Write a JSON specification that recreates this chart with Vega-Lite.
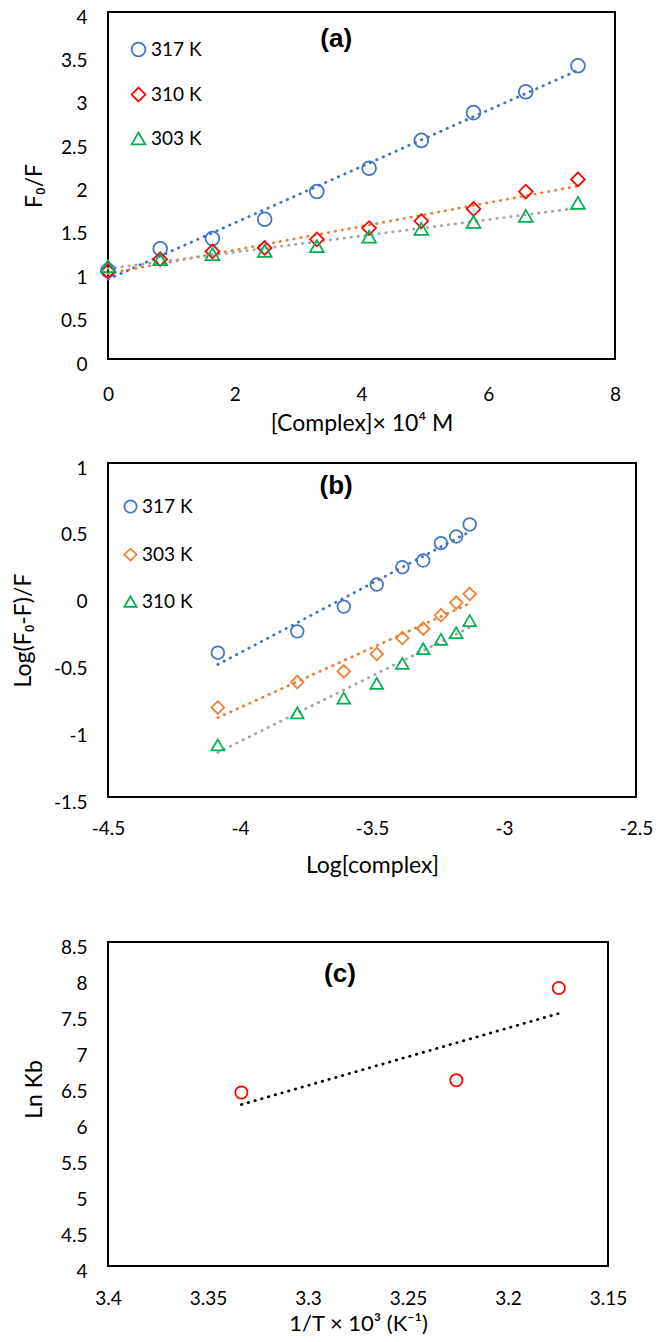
{
  "$schema": "https://vega.github.io/schema/vega-lite/v6.json",
  "padding": {"left": 11, "top": 7, "right": 5, "bottom": 0},
  "background": "white",
  "config": {
    "font": "Lato",
    "view": {"stroke": "black", "strokeWidth": 2},
    "axis": {
      "grid": false, "domain": false, "ticks": false, "tickSize": 0, "labelFlush": false,
      "labelFont": "Lato", "labelFontSize": 19, "labelColor": "black",
      "titleFont": "Lato", "titleFontSize": 23, "titleFontWeight": "normal", "titleColor": "black"
    },
    "axisY": {"labelPadding": 21, "labelOffset": 5},
    "axisX": {"labelPadding": 26, "titlePadding": 8},
    "legend": {
      "labelFont": "Lato", "labelFontSize": 19, "labelColor": "black",
      "symbolStrokeWidth": 1.75, "labelOffset": 3
    }
  },
  "spacing": 59,
  "resolve": {
    "scale": {"color": "independent", "shape": "independent"},
    "legend": {"color": "independent", "shape": "independent"}
  },
  "vconcat": [
    {
      "spacing": 22,
      "resolve": {
        "scale": {"color": "independent", "shape": "independent"},
        "legend": {"color": "independent", "shape": "independent"}
      },
      "vconcat": [
        {
          "width": 507, "height": 347,
          "data": {"values": [
            {"x": 0, "y": 1.02, "T": "317 K"},
            {"x": 0.824, "y": 1.27, "T": "317 K"},
            {"x": 1.648, "y": 1.39, "T": "317 K"},
            {"x": 2.472, "y": 1.61, "T": "317 K"},
            {"x": 3.296, "y": 1.93, "T": "317 K"},
            {"x": 4.12, "y": 2.2, "T": "317 K"},
            {"x": 4.944, "y": 2.52, "T": "317 K"},
            {"x": 5.768, "y": 2.84, "T": "317 K"},
            {"x": 6.592, "y": 3.08, "T": "317 K"},
            {"x": 7.416, "y": 3.38, "T": "317 K"},
            {"x": 0, "y": 1.01, "T": "310 K"},
            {"x": 0.824, "y": 1.15, "T": "310 K"},
            {"x": 1.648, "y": 1.24, "T": "310 K"},
            {"x": 2.472, "y": 1.28, "T": "310 K"},
            {"x": 3.296, "y": 1.38, "T": "310 K"},
            {"x": 4.12, "y": 1.51, "T": "310 K"},
            {"x": 4.944, "y": 1.59, "T": "310 K"},
            {"x": 5.768, "y": 1.73, "T": "310 K"},
            {"x": 6.592, "y": 1.93, "T": "310 K"},
            {"x": 7.416, "y": 2.07, "T": "310 K"},
            {"x": 0, "y": 1.07, "T": "303 K"},
            {"x": 0.824, "y": 1.15, "T": "303 K"},
            {"x": 1.648, "y": 1.21, "T": "303 K"},
            {"x": 2.472, "y": 1.245, "T": "303 K"},
            {"x": 3.296, "y": 1.3, "T": "303 K"},
            {"x": 4.12, "y": 1.41, "T": "303 K"},
            {"x": 4.944, "y": 1.5, "T": "303 K"},
            {"x": 5.768, "y": 1.58, "T": "303 K"},
            {"x": 6.592, "y": 1.65, "T": "303 K"},
            {"x": 7.416, "y": 1.8, "T": "303 K"}
          ]},
          "encoding": {
            "x": {"field": "x", "type": "quantitative",
              "scale": {"domain": [0, 8], "nice": false, "zero": false},
              "axis": {"values": [0, 2, 4, 6, 8], "labelExpr": "'' + datum.value", "title": "[Complex]× 10⁴ M"}},
            "y": {"field": "y", "type": "quantitative",
              "scale": {"domain": [0, 4], "nice": false, "zero": false},
              "axis": {"values": [0, 0.5, 1, 1.5, 2, 2.5, 3, 3.5, 4], "labelExpr": "'' + datum.value", "title": "F₀/F", "titleX": -74, "titleBaseline": "middle"}}
          },
          "layer": [
            {
              "transform": [{"filter": "datum.T === '317 K'"}, {"regression": "y", "on": "x"}],
              "mark": {"type": "line", "strokeDash": [0.5, 6.5], "strokeCap": "round", "strokeWidth": 2.75, "color": "#4472C4"},
              "encoding": {}
            },
            {
              "transform": [{"filter": "datum.T === '310 K'"}, {"regression": "y", "on": "x"}],
              "mark": {"type": "line", "strokeDash": [0.5, 6.5], "strokeCap": "round", "strokeWidth": 2.75, "color": "#ED7D31"},
              "encoding": {}
            },
            {
              "transform": [{"filter": "datum.T === '303 K'"}, {"regression": "y", "on": "x"}],
              "mark": {"type": "line", "strokeDash": [0.5, 6.5], "strokeCap": "round", "strokeWidth": 2.75, "color": "#A5A5A5"},
              "encoding": {}
            },
            {
              "mark": {"type": "point", "filled": false, "strokeWidth": 1.75, "opacity": 1, "size": 190},
              "encoding": {
                "color": {"field": "T", "type": "nominal",
                  "scale": {"domain": ["317 K", "310 K", "303 K"], "range": ["#4472C4", "#FF0000", "#00B050"]},
                  "legend": {"orient": "none", "legendX": 21, "legendY": 28, "title": null, "padding": 0, "rowPadding": 24, "symbolSize": 190}},
                "shape": {"field": "T", "type": "nominal",
                  "scale": {"domain": ["317 K", "310 K", "303 K"], "range": ["circle", "diamond", "triangle-up"]},
                  "legend": {"orient": "none", "legendX": 21, "legendY": 28, "title": null, "padding": 0, "rowPadding": 24, "symbolSize": 190}}
              }
            },
            {
              "data": {"values": [{"x": 3.6, "y": 3.69, "label": "(a)"}]},
              "mark": {"type": "text", "font": "Liberation Sans", "fontWeight": "bold", "fontSize": 26, "color": "black"},
              "encoding": {"text": {"field": "label"}}
            }
          ]
        },
        {
          "width": 528, "height": 334,
          "data": {"values": [
            {"x": -4.084, "y": -0.42, "T": "317 K"},
            {"x": -3.783, "y": -0.26, "T": "317 K"},
            {"x": -3.607, "y": -0.075, "T": "317 K"},
            {"x": -3.482, "y": 0.09, "T": "317 K"},
            {"x": -3.385, "y": 0.22, "T": "317 K"},
            {"x": -3.306, "y": 0.27, "T": "317 K"},
            {"x": -3.239, "y": 0.4, "T": "317 K"},
            {"x": -3.181, "y": 0.45, "T": "317 K"},
            {"x": -3.13, "y": 0.54, "T": "317 K"},
            {"x": -4.084, "y": -0.83, "T": "303 K"},
            {"x": -3.783, "y": -0.64, "T": "303 K"},
            {"x": -3.607, "y": -0.56, "T": "303 K"},
            {"x": -3.482, "y": -0.43, "T": "303 K"},
            {"x": -3.385, "y": -0.31, "T": "303 K"},
            {"x": -3.306, "y": -0.24, "T": "303 K"},
            {"x": -3.239, "y": -0.14, "T": "303 K"},
            {"x": -3.181, "y": -0.045, "T": "303 K"},
            {"x": -3.13, "y": 0.02, "T": "303 K"},
            {"x": -4.084, "y": -1.11, "T": "310 K"},
            {"x": -3.783, "y": -0.87, "T": "310 K"},
            {"x": -3.607, "y": -0.76, "T": "310 K"},
            {"x": -3.482, "y": -0.65, "T": "310 K"},
            {"x": -3.385, "y": -0.5, "T": "310 K"},
            {"x": -3.306, "y": -0.39, "T": "310 K"},
            {"x": -3.239, "y": -0.32, "T": "310 K"},
            {"x": -3.181, "y": -0.27, "T": "310 K"},
            {"x": -3.13, "y": -0.18, "T": "310 K"}
          ]},
          "encoding": {
            "x": {"field": "x", "type": "quantitative",
              "scale": {"domain": [-4.5, -2.5], "nice": false, "zero": false},
              "axis": {"values": [-4.5, -4, -3.5, -3, -2.5], "labelExpr": "'' + datum.value", "title": "Log[complex]", "labelPadding": 22, "titlePadding": 16}},
            "y": {"field": "y", "type": "quantitative",
              "scale": {"domain": [-1.5, 1], "nice": false, "zero": false},
              "axis": {"values": [-1.5, -1, -0.5, 0, 0.5, 1], "labelExpr": "'' + datum.value", "title": "Log(F₀-F)/F", "titleX": -85, "titleBaseline": "middle"}}
          },
          "layer": [
            {
              "transform": [{"filter": "datum.T === '317 K'"}, {"regression": "y", "on": "x"}],
              "mark": {"type": "line", "strokeDash": [0.5, 6.5], "strokeCap": "round", "strokeWidth": 2.75, "color": "#4472C4"},
              "encoding": {}
            },
            {
              "transform": [{"filter": "datum.T === '303 K'"}, {"regression": "y", "on": "x"}],
              "mark": {"type": "line", "strokeDash": [0.5, 6.5], "strokeCap": "round", "strokeWidth": 2.75, "color": "#ED7D31"},
              "encoding": {}
            },
            {
              "transform": [{"filter": "datum.T === '310 K'"}, {"regression": "y", "on": "x"}],
              "mark": {"type": "line", "strokeDash": [0.5, 6.5], "strokeCap": "round", "strokeWidth": 2.75, "color": "#A5A5A5"},
              "encoding": {}
            },
            {
              "mark": {"type": "point", "filled": false, "strokeWidth": 1.75, "opacity": 1, "size": 160},
              "encoding": {
                "color": {"field": "T", "type": "nominal",
                  "scale": {"domain": ["317 K", "303 K", "310 K"], "range": ["#4472C4", "#ED7D31", "#00B050"]},
                  "legend": {"orient": "none", "legendX": 13, "legendY": 34, "title": null, "padding": 0, "rowPadding": 27, "symbolSize": 150, "labelOffset": 2}},
                "shape": {"field": "T", "type": "nominal",
                  "scale": {"domain": ["317 K", "303 K", "310 K"], "range": ["circle", "diamond", "triangle-up"]},
                  "legend": {"orient": "none", "legendX": 13, "legendY": 34, "title": null, "padding": 0, "rowPadding": 27, "symbolSize": 150, "labelOffset": 2}}
              }
            },
            {
              "data": {"values": [{"x": -3.636, "y": 0.83, "label": "(b)"}]},
              "mark": {"type": "text", "font": "Liberation Sans", "fontWeight": "bold", "fontSize": 26, "color": "black"},
              "encoding": {"text": {"field": "label"}}
            }
          ]
        }
      ]
    },
    {
      "width": 500, "height": 324,
      "data": {"values": [
        {"x": 3.3333, "y": 6.41},
        {"x": 3.2258, "y": 6.58},
        {"x": 3.1746, "y": 7.86}
      ]},
      "encoding": {
        "x": {"field": "x", "type": "quantitative",
          "scale": {"domain": [3.15, 3.4], "reverse": true, "nice": false, "zero": false},
          "axis": {"values": [3.4, 3.35, 3.3, 3.25, 3.2, 3.15], "labelExpr": "'' + datum.value", "title": "1/T × 10³ (K⁻¹)", "labelPadding": 23, "titlePadding": 5, "titleFontSize": 22}},
        "y": {"field": "y", "type": "quantitative",
          "scale": {"domain": [4, 8.5], "nice": false, "zero": false},
          "axis": {"values": [4, 4.5, 5, 5.5, 6, 6.5, 7, 7.5, 8, 8.5], "labelExpr": "'' + datum.value", "title": "Ln Kb", "titleX": -74, "titleY": 147, "titleBaseline": "middle"}}
      },
      "layer": [
        {
          "transform": [{"regression": "y", "on": "x"}],
          "mark": {"type": "line", "strokeDash": [0.5, 6.5], "strokeCap": "round", "strokeWidth": 2.75, "color": "black"},
          "encoding": {}
        },
        {
          "mark": {"type": "point", "filled": false, "strokeWidth": 1.75, "size": 150, "color": "#FF0000", "opacity": 1},
          "encoding": {}
        },
        {
          "data": {"values": [{"x": 3.284, "y": 8.06, "label": "(c)"}]},
          "mark": {"type": "text", "font": "Liberation Sans", "fontWeight": "bold", "fontSize": 26, "color": "black"},
          "encoding": {"text": {"field": "label"}}
        }
      ]
    }
  ]
}
